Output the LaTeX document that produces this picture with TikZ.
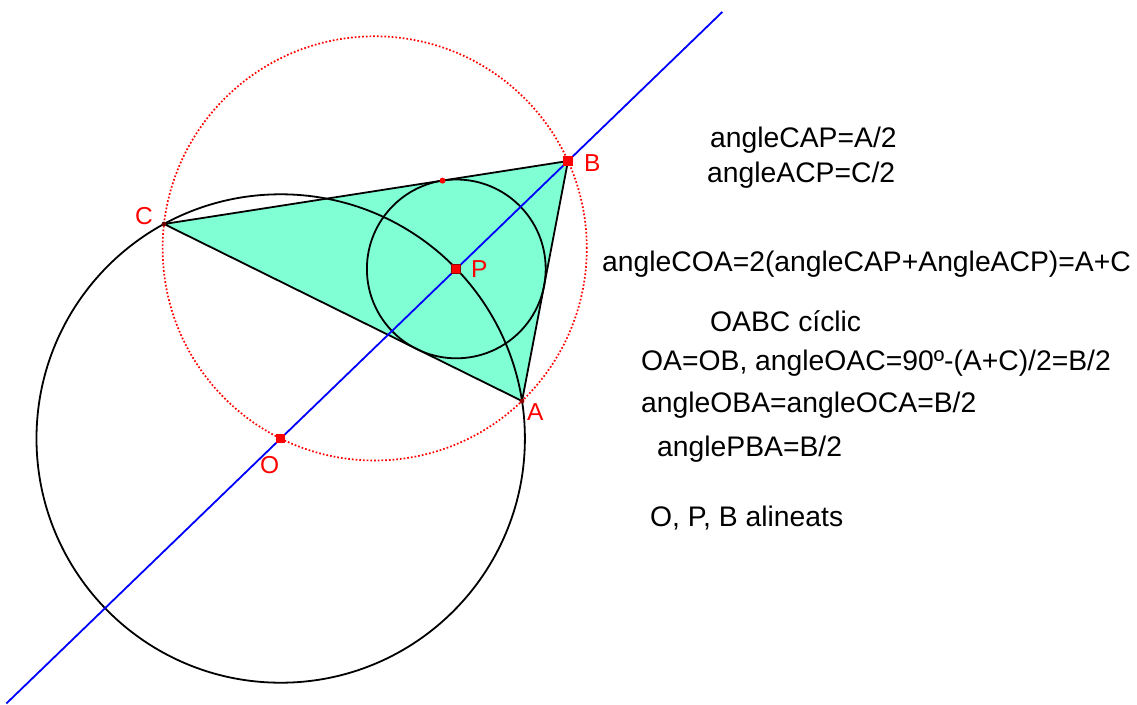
\documentclass[tikz,border=0pt]{standalone}
\usepackage{fontspec}
\setmainfont{Liberation Sans}
\usetikzlibrary{calc}
\definecolor{aqua}{RGB}{128,255,212}
\definecolor{dred}{RGB}{150,0,0}
\tikzset{
  geo/.style={line width=1.8pt,black},
  redcirc/.style={line width=1.7pt,red,dash pattern=on 1.7pt off 2pt},
  blueline/.style={line width=1.8pt,blue},
  lbl/.style={text=red,inner sep=0pt,anchor=base west,font=\fontsize{24.5}{28}\selectfont},
  txt/.style={text=black,inner sep=0pt,anchor=base west,font=\fontsize{28.3}{32}\selectfont},
  sqmark/.style={fill=red,minimum size=9pt,inner sep=0pt,draw=none,rectangle},
}
\begin{document}
\begin{tikzpicture}[x=1pt,y=-1pt]
\useasboundingbox (0,0) rectangle (1137,704);
\coordinate (C) at (164,224);
\coordinate (B) at (568,161);
\coordinate (A) at (522,401);
\coordinate (P) at (456.3,268.9);
\coordinate (O) at (280.7,438.5);
\coordinate (Oc) at (374.7,248.4);
\coordinate (T) at (442.5,180.6);
\coordinate (L1) at ($(O)!-0.955!(B)$);
\coordinate (L2) at ($(O)!1.537!(B)$);
% triangle
\fill[aqua] (C) -- (B) -- (A) -- cycle;
\draw[geo,line join=round] (C) -- (B) -- (A) -- cycle;
% incircle
\draw[geo] (P) circle[radius=89.4pt];
% big circle centred at O
\draw[geo] (O) circle[radius=244.2pt];
% circumcircle
\draw[redcirc] (Oc) circle[radius=212.1pt];
% line O P B
\draw[blueline] (L1) -- (L2);
% markers
\node[sqmark,minimum size=10pt] (mB) at (B) {};
\node[sqmark,draw=dred,line width=1pt] (mP) at (P) {};
\node[sqmark] (mO) at (O) {};
\fill[dred] (A) circle[radius=2.4pt];
\fill[dred!70!black] (C) circle[radius=2.4pt];
\fill[red] (T) circle[radius=3pt];
% point labels
\node[lbl] (lC) at (135,224) {C};
\node[lbl] (lB) at (584,171) {B};
\node[lbl] (lP) at (471,277) {P};
\node[lbl] (lA) at (527,420) {A};
\node[lbl] (lO) at (260,473) {O};
% text
\node[txt] (t1) at (710,147) {angleCAP=A/2};
\node[txt] (t2) at (707,182) {angleACP=C/2};
\node[txt] (t3) at (602,271) {angleCOA=2(angleCAP+AngleACP)=A+C};
\node[txt] (t4) at (710,331) {OABC cíclic};
\node[txt] (t5) at (641,370) {OA=OB, angleOAC=90º-(A+C)/2=B/2};
\node[txt] (t6) at (641,412) {angleOBA=angleOCA=B/2};
\node[txt] (t7) at (657,456) {anglePBA=B/2};
\node[txt] (t8) at (650,526) {O, P, B alineats};
\end{tikzpicture}
\end{document}
